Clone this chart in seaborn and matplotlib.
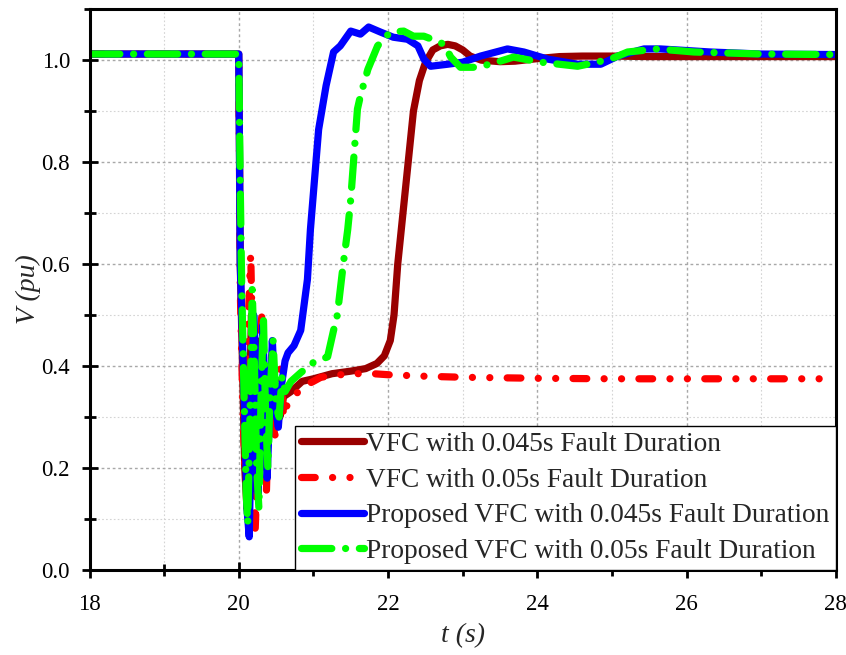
import numpy as np
import pandas as pd
import matplotlib
matplotlib.use("Agg")
import matplotlib.pyplot as plt
from matplotlib.ticker import MultipleLocator, FormatStrFormatter
import seaborn as sns

# ---------------- data ----------------
labels = [
    "VFC with 0.045s Fault Duration",
    "VFC with 0.05s Fault Duration",
    "Proposed VFC with 0.045s Fault Duration",
    "Proposed VFC with 0.05s Fault Duration",
]

t_vfc045 = [18.0, 20.0, 20.02, 20.05, 20.08, 20.11, 20.14, 20.17, 20.2, 20.23, 20.26, 20.29,
            20.32, 20.36, 20.40, 20.45, 20.5, 20.55, 20.6, 20.7, 20.85, 21.0, 21.25, 21.5,
            21.7, 21.85, 21.95, 22.03, 22.08, 22.13, 22.2, 22.27, 22.34, 22.42, 22.5, 22.6,
            22.7, 22.8, 22.9, 23.0, 23.1, 23.25, 23.5, 23.7, 24.0, 24.3, 24.6, 25.0, 25.5,
            26.0, 27.0, 28.0]
v_vfc045 = [1.012, 1.012, 0.60, 0.40, 0.20, 0.12, 0.30, 0.50, 0.35, 0.15, 0.25, 0.45,
            0.30, 0.20, 0.38, 0.28, 0.36, 0.30, 0.34, 0.35, 0.37, 0.375, 0.385, 0.39,
            0.395, 0.405, 0.42, 0.45, 0.50, 0.60, 0.70, 0.80, 0.90, 0.96, 0.995, 1.02,
            1.028, 1.031, 1.028, 1.02, 1.008, 1.0, 0.997, 0.998, 1.003, 1.007, 1.008, 1.008, 1.007,
            1.007, 1.007, 1.007]

t_vfc05 = [18.0, 20.0, 20.02, 20.05, 20.08, 20.1, 20.13, 20.16, 20.19, 20.22, 20.25, 20.28,
           20.31, 20.34, 20.37, 20.4, 20.44, 20.48, 20.52, 20.56, 20.6, 20.66, 20.73, 20.8,
           20.87, 21.0, 21.1, 21.3, 21.5, 21.8, 22.0, 22.5, 23.0, 23.5, 24.0, 25.0, 26.0,
           27.0, 28.0]
v_vfc05 = [1.012, 1.012, 0.55, 0.35, 0.20, 0.30, 0.50, 0.62, 0.40, 0.08, 0.20, 0.45,
           0.50, 0.30, 0.15, 0.32, 0.42, 0.25, 0.35, 0.40, 0.30, 0.33, 0.34, 0.35,
           0.36, 0.37, 0.378, 0.382, 0.385, 0.385, 0.383, 0.380, 0.378, 0.377, 0.376, 0.375,
           0.375, 0.375, 0.375]

t_prop045 = [18.0, 20.0, 20.02, 20.05, 20.08, 20.11, 20.14, 20.17, 20.2, 20.23, 20.26, 20.29,
             20.32, 20.35, 20.38, 20.41, 20.45, 20.49, 20.53, 20.57, 20.62, 20.66, 20.74,
             20.83, 20.92, 20.96, 21.07, 21.17, 21.27, 21.36, 21.5, 21.63, 21.74, 21.9,
             22.07, 22.26, 22.40, 22.48, 22.57, 22.8, 23.0, 23.24, 23.6, 23.82, 24.14, 24.54,
             24.85, 25.08, 25.43, 25.65, 26.32, 27.0, 28.0]
v_prop045 = [1.012, 1.012, 0.60, 0.45, 0.30, 0.12, 0.065, 0.30, 0.50, 0.38, 0.15, 0.30,
             0.48, 0.35, 0.18, 0.30, 0.45, 0.32, 0.28, 0.36, 0.41, 0.426, 0.44,
             0.47, 0.57, 0.668, 0.864, 0.95, 1.016, 1.028, 1.057, 1.051, 1.065, 1.055,
             1.045, 1.041, 1.028, 1.002, 0.988, 0.992, 0.996, 1.008, 1.022, 1.016, 1.002, 0.992,
             0.992, 1.008, 1.022, 1.022, 1.016, 1.012, 1.011]

t_prop05 = [18.0, 20.0, 20.02, 20.04, 20.07, 20.1, 20.12, 20.15, 20.18, 20.21, 20.24, 20.27,
            20.3, 20.33, 20.36, 20.39, 20.42, 20.46, 20.5, 20.54, 20.58, 20.62, 20.7, 20.83,
            21.0, 21.19, 21.27, 21.32, 21.4, 21.46, 21.5, 21.59, 21.63, 21.73, 21.86, 22.03,
            22.21, 22.34, 22.48, 22.66, 22.75, 22.84, 22.97, 23.15, 23.37, 23.68, 24.05,
            24.54, 24.67, 24.98, 25.21, 25.61, 26.1, 27.0, 28.0]
v_prop05 = [1.012, 1.012, 0.75, 0.55, 0.35, 0.15, 0.09, 0.30, 0.55, 0.40, 0.20, 0.12,
            0.35, 0.50, 0.30, 0.20, 0.35, 0.45, 0.32, 0.30, 0.38, 0.35, 0.37, 0.387,
            0.407, 0.418, 0.47, 0.50, 0.60, 0.668, 0.727, 0.904, 0.93, 0.982, 1.028, 1.055,
            1.057, 1.047, 1.047, 1.037, 1.031, 1.006, 0.986, 0.986, 0.992, 1.006, 0.996,
            0.988, 0.992, 1.002, 1.016, 1.022, 1.016, 1.012, 1.011]

colors = ["#990000", "#ff0000", "#0000ff", "#00ff00"]
dash_styles = ["", (1.9, 2.4, 0.01, 2.4, 0.01, 2.4), "", (4.2, 1.9, 0.01, 1.9)]

series_t = [t_vfc045, t_vfc05, t_prop045, t_prop05]
series_v = [v_vfc045, v_vfc05, v_prop045, v_prop05]

frames = []
for lab, tt, vv in zip(labels, series_t, series_v):
    frames.append(pd.DataFrame({"t": tt, "V": vv, "series": lab}))
df = pd.concat(frames, ignore_index=True)

# ---------------- style ----------------
sns.set_theme(style="white")
plt.rcParams["font.family"] = ["Liberation Serif", "DejaVu Serif"]

fig = plt.figure(figsize=(8.46, 6.55), dpi=100)
ax = fig.add_axes([0.1058, 0.1298, 0.988 - 0.1058, 0.986 - 0.1298])

sns.lineplot(
    data=df, x="t", y="V", hue="series", style="series",
    hue_order=labels, style_order=labels,
    palette=dict(zip(labels, colors)),
    dashes=dict(zip(labels, dash_styles)),
    sort=False, estimator=None, legend=False, ax=ax,
    linewidth=5.2, dash_capstyle="round", solid_capstyle="round",
    solid_joinstyle="round", dash_joinstyle="round",
)

ax.set_xlim(18, 28)
ax.set_ylim(0, 1.1)
ax.xaxis.set_major_locator(MultipleLocator(2))
ax.xaxis.set_minor_locator(MultipleLocator(1))
ax.yaxis.set_major_locator(MultipleLocator(0.2))
ax.yaxis.set_minor_locator(MultipleLocator(0.1))
ax.yaxis.set_major_formatter(FormatStrFormatter("%.1f"))
ax.xaxis.set_major_formatter(FormatStrFormatter("%d"))

ax.grid(which="major", color="#a8a8a8", linestyle=(0, (2, 2)), linewidth=1.0)
ax.grid(which="minor", color="#d4d4d4", linestyle=(0, (1.5, 2)), linewidth=0.8)
ax.set_axisbelow(True)

for s in ax.spines.values():
    s.set_color("black")
    s.set_linewidth(2.2)
    s.set_visible(True)

ax.tick_params(axis="both", which="major", direction="inout", length=12, width=2,
               labelsize=16.5, color="black", labelcolor="black",
               bottom=True, left=True, top=False, right=False)
ax.tick_params(axis="x", which="major", pad=11)
ax.tick_params(axis="y", which="major", pad=8)
ax.tick_params(axis="both", which="minor", direction="inout", length=8, width=2,
               color="black", bottom=True, left=True, top=False, right=False)

ax.set_xlabel("t (s)", fontsize=20, fontstyle="italic", labelpad=6)
ax.set_ylabel("V (pu)", fontsize=20, fontstyle="italic", labelpad=0)

leg = ax.legend(ax.lines[:4], labels, loc="lower right", borderaxespad=0,
                fontsize=19.75, frameon=True, fancybox=False, framealpha=1,
                edgecolor="black", handlelength=2.3, handletextpad=0.1,
                borderpad=0.22, labelspacing=0.38)
leg.get_frame().set_linewidth(1.0)

fig.savefig("out.png", dpi=100)
